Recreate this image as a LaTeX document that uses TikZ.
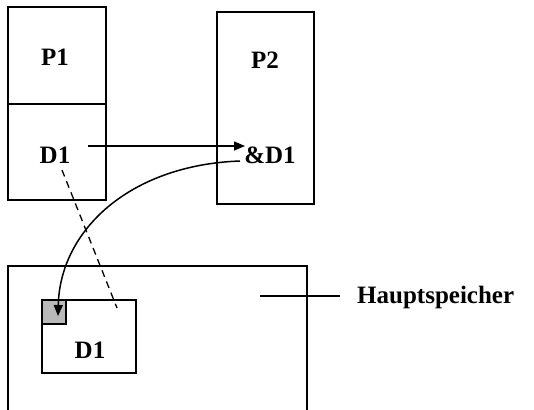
\documentclass[tikz,border=0pt]{standalone}
\usepackage{fontspec}
\setmainfont{Liberation Serif}
\usetikzlibrary{arrows.meta}
\begin{document}
\begin{tikzpicture}[x=1pt,y=-1pt,
  box/.style={draw,line width=1.5pt},
  lbl/.style={font=\bfseries\fontsize{25}{28}\selectfont,inner sep=0pt},
  conn/.style={line width=1.5pt,-{Triangle[length=11pt,width=9pt]}},
  dash line/.style={line width=1.3pt,dash pattern=on 7pt off 5pt}]
\useasboundingbox (0,0) rectangle (534,409);
% P1 box
\draw[box] (8,7) rectangle (106,200);
\draw[box] (8,104) -- (106,104);
% P2 box
\draw[box] (217,12) rectangle (314,204);
% main memory
\draw[box] (8,412) -- (8,266) -- (307,266) -- (307,412);
% inner box
\draw[box] (42,300) rectangle (136,373);
\draw[box,fill=gray!55] (42,300) rectangle (66,324);
% labels
\node[lbl] (p1) at (55,57) {P1};
\node[lbl] (d1a) at (55,155) {D1};
\node[lbl] (p2) at (265,60) {P2};
\node[lbl] (ad1) at (270,155) {\&D1};
\node[lbl] (d1b) at (90,350) {D1};
\node[lbl,anchor=west] (hs) at (357,297) {Hauptspeicher};
% coordinates
\coordinate (a1) at (88,146);
\coordinate (a2) at (245,146);
\coordinate (c1) at (240,161);
\coordinate (c2) at (58,316);
\coordinate (e1) at (62,170);
\coordinate (e2) at (117,308);
\coordinate (h1) at (260,296);
\coordinate (h2) at (340,296);
% connectors
\draw[conn] (a1) -- (a2);
\draw[conn] (c1) .. controls (130,165) and (60,230) .. (c2);
\draw[dash line] (e1) -- (e2);
\draw[line width=1.5pt] (h1) -- (h2);
\end{tikzpicture}
\end{document}
